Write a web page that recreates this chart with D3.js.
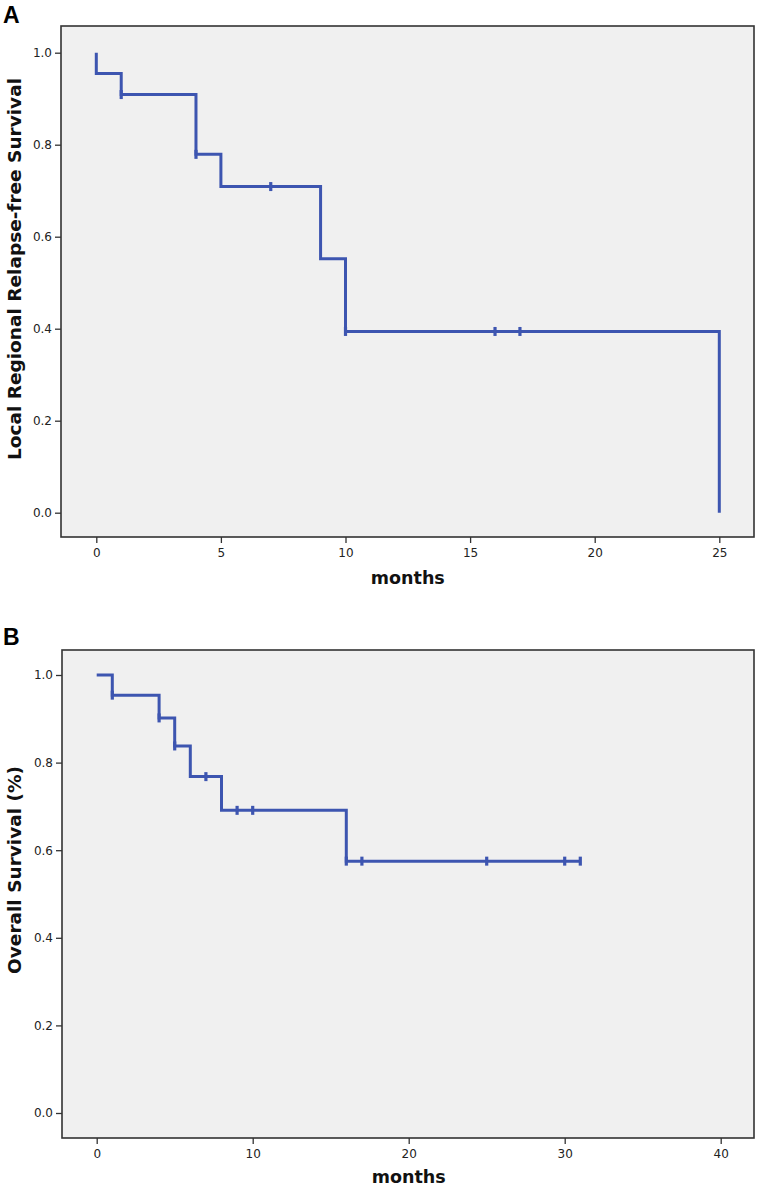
<!DOCTYPE html>
<html>
<head>
<meta charset="utf-8">
<script src="https://cdn.jsdelivr.net/npm/d3@7"></script>
<style>
  html, body { margin: 0; padding: 0; background: #fff; }
  svg { display: block; }
  .tick text { font-family: "DejaVu Sans", sans-serif; font-size: 12px; fill: #222; }
  .tick line { stroke: #333; stroke-width: 1.3; }
</style>
</head>
<body>
<script>
// ---- Panel A: Local Regional Relapse-free Survival ----
const monthsA   = [0, 0, 1, 4, 5, 9, 10, 25];
const survivalA = [1.0, 0.955, 0.909, 0.779, 0.709, 0.552, 0.394, 0.0];
const censorA   = [1, 4, 7, 10, 16, 17];
const xTicksA   = [0, 5, 10, 15, 20, 25];
const yTicksA   = [0.0, 0.2, 0.4, 0.6, 0.8, 1.0];

// ---- Panel B: Overall Survival ----
const monthsB   = [0, 1, 4, 5, 6, 8, 16, 31];
const survivalB = [1.0, 0.954, 0.902, 0.838, 0.768, 0.691, 0.575, 0.575];
const censorB   = [1, 4, 5, 7, 9, 10, 16, 17, 25, 30, 31];
const xTicksB   = [0, 10, 20, 30, 40];
const yTicksB   = [0.0, 0.2, 0.4, 0.6, 0.8, 1.0];

const W = 757, H = 1188;
const lineColor = "#3d55b0";

const svg = d3.select("body").append("svg").attr("width", W).attr("height", H);

function stepValue(months, surv, t) {
  let v = surv[0];
  for (let i = 0; i < months.length; i++) if (months[i] <= t) v = surv[i];
  return v;
}

function panel(cfg) {
  const g = svg.append("g");
  const { frame } = cfg;
  const x = d3.scaleLinear().domain(cfg.xDomain).range(cfg.xRange);
  const y = d3.scaleLinear().domain([0, 1]).range(cfg.yRange);

  g.append("rect")
    .attr("x", frame.x0).attr("y", frame.y0)
    .attr("width", frame.x1 - frame.x0).attr("height", frame.y1 - frame.y0)
    .attr("fill", "#f0f0f0").attr("stroke", "#333").attr("stroke-width", 1.6);

  const ya = g.append("g").attr("transform", `translate(${frame.x0},0)`)
    .call(d3.axisLeft(y).tickValues(cfg.yTicks).tickFormat(d3.format(".1f")).tickSize(6).tickPadding(3));
  ya.select(".domain").remove();
  const xa = g.append("g").attr("transform", `translate(0,${frame.y1})`)
    .call(d3.axisBottom(x).tickValues(cfg.xTicks).tickFormat(d3.format("d")).tickSize(6).tickPadding(5));
  xa.select(".domain").remove();

  const pts = cfg.months.map((m, i) => [m, cfg.surv[i]]);
  const line = d3.line().x(d => x(d[0])).y(d => y(d[1])).curve(d3.curveStepAfter);
  g.append("path").datum(pts)
    .attr("d", line).attr("fill", "none")
    .attr("stroke", lineColor).attr("stroke-width", 3);

  g.selectAll(".cens").data(cfg.censor).enter().append("line")
    .attr("x1", d => x(d)).attr("x2", d => x(d))
    .attr("y1", d => y(stepValue(cfg.months, cfg.surv, d)) - 4.5)
    .attr("y2", d => y(stepValue(cfg.months, cfg.surv, d)) + 4.5)
    .attr("stroke", lineColor).attr("stroke-width", 3.2);

  g.append("text").attr("x", cfg.letter.x).attr("y", cfg.letter.y)
    .attr("font-family", "Liberation Sans, Arial, sans-serif").attr("font-weight", "bold")
    .attr("font-size", 23).attr("fill", "#000").text(cfg.letterText);
  g.append("text")
    .attr("x", (x(cfg.xTicks[0]) + x(cfg.xTicks[cfg.xTicks.length - 1])) / 2)
    .attr("y", cfg.xTitleY)
    .attr("text-anchor", "middle")
    .attr("font-family", "DejaVu Sans, sans-serif").attr("font-weight", "bold")
    .attr("font-size", 17.5).attr("fill", "#111").text("months");
  g.append("text")
    .attr("transform", `translate(${cfg.yTitleX},${cfg.yTitleY}) rotate(-90)`)
    .attr("text-anchor", "middle")
    .attr("font-family", "DejaVu Sans, sans-serif").attr("font-weight", "bold")
    .attr("font-size", 18.5).attr("fill", "#111").text(cfg.yTitle);
}

panel({
  frame: { x0: 61, y0: 26, x1: 754, y1: 537 },
  xDomain: [0, 25], xRange: [96.3, 719.3],
  yRange: [512.7, 52.7],
  xTicks: xTicksA, yTicks: yTicksA,
  months: monthsA, surv: survivalA, censor: censorA,
  letter: { x: 3, y: 23 }, letterText: "A",
  xTitleY: 584,
  yTitleX: 21, yTitleY: 269,
  yTitle: "Local Regional Relapse-free Survival"
});

panel({
  frame: { x0: 62, y0: 650, x1: 754, y1: 1138 },
  xDomain: [0, 40], xRange: [96.7, 720.7],
  yRange: [1113, 675],
  xTicks: xTicksB, yTicks: yTicksB,
  months: monthsB, surv: survivalB, censor: censorB,
  letter: { x: 3, y: 645 }, letterText: "B",
  xTitleY: 1183,
  yTitleX: 21, yTitleY: 870,
  yTitle: "Overall Survival (%)"
});
</script>
</body>
</html>
